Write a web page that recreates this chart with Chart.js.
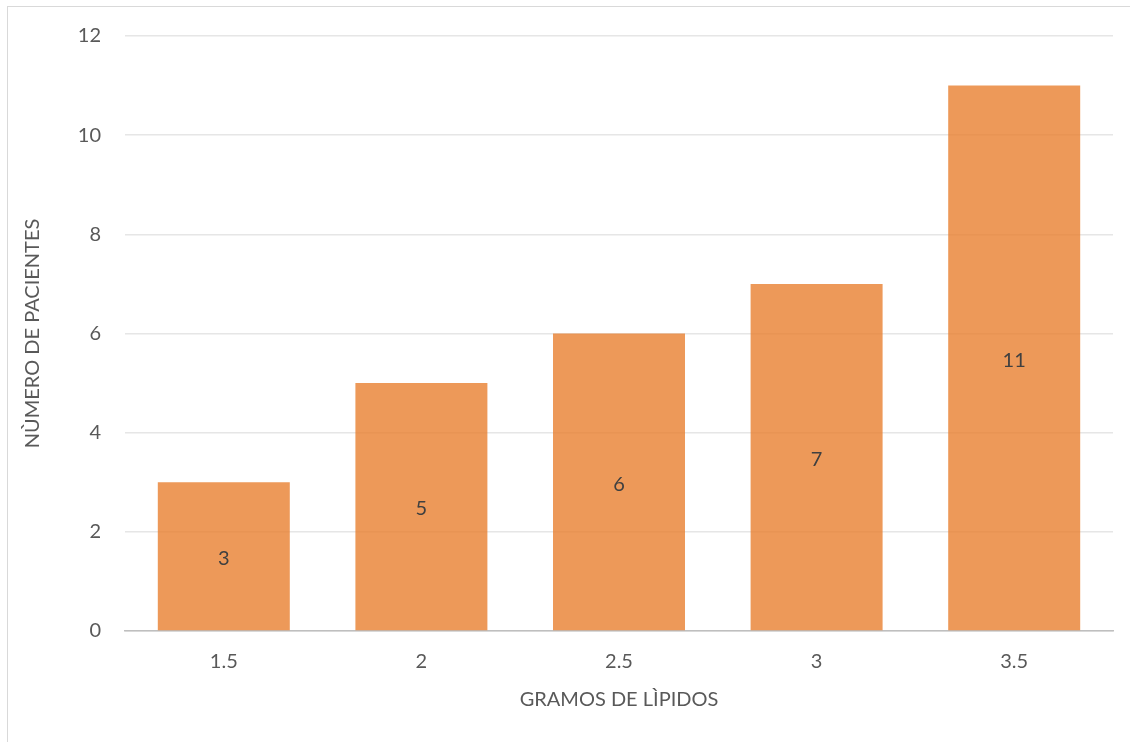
<!DOCTYPE html>
<html>
<head>
<meta charset="utf-8">
<script src="https://cdn.jsdelivr.net/npm/chart.js@4/dist/chart.umd.min.js"></script>
<style>
  html, body { margin: 0; padding: 0; background: #fff; }
  #wrap { position: relative; width: 1130px; height: 742px; }
  #frame { position: absolute; left: 7px; top: 6px; width: 1130px; height: 760px;
           border-left: 1px solid #d9d9d9; border-top: 1px solid #d9d9d9; box-sizing: border-box; }
  canvas { position: absolute; left: 0; top: 0; }
</style>
</head>
<body>
<div id="wrap">
  <div id="frame"></div>
  <canvas id="c" width="1130" height="742"></canvas>
</div>
<script>
const categories = ['1.5', '2', '2.5', '3', '3.5'];
const pacientes = [3, 5, 6, 7, 11];
const xTitle = 'GRAMOS DE LÌPIDOS';
const yTitle = 'NÙMERO DE PACIENTES';

const FONT = 'Lato, "Open Sans", sans-serif';
const TEXT = '#595959';
const SIZE = 20;

// value labels centred inside each bar
const centerLabels = {
  id: 'centerLabels',
  afterDatasetsDraw(chart) {
    const ctx = chart.ctx;
    const meta = chart.getDatasetMeta(0);
    const yScale = chart.scales.y;
    ctx.save();
    ctx.font = SIZE + 'px ' + FONT;
    ctx.fillStyle = '#404040';
    ctx.textAlign = 'center';
    ctx.textBaseline = 'middle';
    meta.data.forEach((bar, i) => {
      const v = pacientes[i];
      const y = (yScale.getPixelForValue(v) + yScale.getPixelForValue(0)) / 2;
      ctx.fillText(String(v), bar.x, y + 2);
    });
    ctx.restore();
  }
};

new Chart(document.getElementById('c'), {
  type: 'bar',
  data: {
    labels: categories,
    datasets: [{
      data: pacientes,
      backgroundColor: 'rgba(232,127,48,0.8)',
      borderWidth: 0,
      barPercentage: 0.668,
      categoryPercentage: 1.0
    }]
  },
  options: {
    responsive: false,
    animation: false,
    layout: { padding: { left: 0, right: 17, top: 36, bottom: 0 } },
    plugins: { legend: { display: false }, tooltip: { enabled: false } },
    scales: {
      x: {
        grid: { display: false, drawTicks: false },
        border: { display: true, color: '#bfbfbf', width: 1.5 },
        ticks: { color: TEXT, font: { family: FONT, size: SIZE }, padding: 19 },
        title: { display: true, text: xTitle, color: TEXT, font: { family: FONT, size: SIZE },
                 padding: { top: 30, bottom: 30 } },
        afterFit(scale) { scale.height = 111; }
      },
      y: {
        min: 0, max: 12,
        ticks: { stepSize: 2, color: TEXT, font: { family: FONT, size: SIZE }, padding: 24 },
        grid: { color: '#e6e6e6', lineWidth: 1.5, drawTicks: false },
        border: { display: false },
        title: { display: true, text: yTitle, color: TEXT, font: { family: FONT, size: SIZE },
                 padding: { top: 21, bottom: 21 } },
        afterFit(scale) { scale.width = 125; }
      }
    }
  },
  plugins: [centerLabels]
});
</script>
</body>
</html>
